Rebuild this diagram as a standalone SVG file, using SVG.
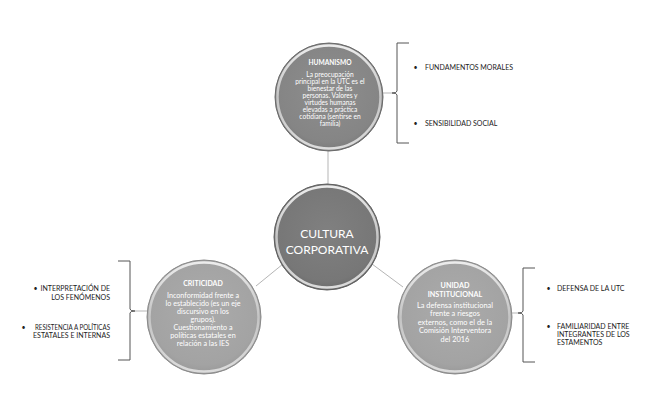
<svg xmlns="http://www.w3.org/2000/svg" width="650" height="406" viewBox="0 0 650 406">
<defs>
<style>
.t{font-family:Lato,"Liberation Sans",Arial,sans-serif;fill:#fff;text-anchor:middle}
.h{font-weight:bold}
.b{font-family:Lato,"Liberation Sans",Arial,sans-serif;fill:#222;font-size:7px}
.conn{stroke:#b5b5b5;stroke-width:1;fill:none}
.brace{stroke:#555;stroke-width:1;fill:none}
</style>
<radialGradient id="gMid" cx="50%" cy="45%" r="55%">
<stop offset="0" stop-color="#8e8e8e"/><stop offset="0.85" stop-color="#858585"/><stop offset="1" stop-color="#7a7a7a"/>
</radialGradient>
<radialGradient id="gDark" cx="50%" cy="45%" r="55%">
<stop offset="0" stop-color="#808080"/><stop offset="0.85" stop-color="#777"/><stop offset="1" stop-color="#6c6c6c"/>
</radialGradient>
<radialGradient id="gLight" cx="50%" cy="45%" r="55%">
<stop offset="0" stop-color="#ababab"/><stop offset="0.85" stop-color="#a3a3a3"/><stop offset="1" stop-color="#999"/>
</radialGradient>
<linearGradient id="rim" x1="0" y1="0" x2="0" y2="1">
<stop offset="0" stop-color="#ececec"/><stop offset="0.5" stop-color="#c4c4c4"/><stop offset="1" stop-color="#dcdcdc"/>
</linearGradient>
</defs>
<rect width="650" height="406" fill="#fff"/>
<g id="connectors">
<line class="conn" x1="328" y1="151" x2="328" y2="184"/>
<line class="conn" x1="283" y1="264" x2="256" y2="286"/>
<line class="conn" x1="372" y1="264" x2="403" y2="287"/>
<line class="conn" x1="383" y1="93" x2="392" y2="93"/>
<line class="conn" x1="135" y1="311" x2="148" y2="311"/>
<line class="conn" x1="512" y1="313" x2="518" y2="313"/>
<path class="brace" d="M409,43 H397 V91 Q397,93 392,93 Q397,93 397,95 V143 H409"/>
<path class="brace" d="M118,261 H130 V309 Q130,311 135,311 Q130,311 130,313 V360 H118"/>
<path class="brace" d="M535,268 H523 V311 Q523,313 518,313 Q523,313 523,315 V362 H535"/>
</g>
<g id="humanismo">
<circle cx="329" cy="97" r="54" fill="url(#gMid)" stroke="#6a6a6a" stroke-width="1"/>
<circle cx="329" cy="97" r="51.5" fill="none" stroke="url(#rim)" stroke-width="2.5"/>
<text class="t h" x="330" y="65" font-size="6.6">HUMANISMO</text>
<text class="t" font-size="6.6"><tspan x="330" y="77.3">La preocupación</tspan><tspan x="330" y="84.3">principal en la UTC es el</tspan><tspan x="330" y="91.3">bienestar de las</tspan><tspan x="330" y="98.3">personas. Valores y</tspan><tspan x="330" y="105.3">virtudes humanas</tspan><tspan x="330" y="112.3">elevadas a práctica</tspan><tspan x="330" y="119.3">cotidiana (sentirse en</tspan><tspan x="330" y="126.3">familia)</tspan></text>
</g>
<g id="cultura">
<circle cx="327" cy="237" r="53" fill="url(#gDark)" stroke="#5e5e5e" stroke-width="1"/>
<circle cx="327" cy="237" r="50.5" fill="none" stroke="url(#rim)" stroke-width="2.5"/>
<text class="t" font-size="12"><tspan x="327" y="237.5">CULTURA</tspan><tspan x="327" y="253.5">CORPORATIVA</tspan></text>
</g>
<g id="criticidad">
<circle cx="204" cy="317" r="57" fill="url(#gLight)" stroke="#8a8a8a" stroke-width="1"/>
<circle cx="204" cy="317" r="54.5" fill="none" stroke="url(#rim)" stroke-width="2.5"/>
<text class="t h" x="203" y="285.5" font-size="7">CRITICIDAD</text>
<text class="t" font-size="7.2"><tspan x="203" y="297.6">Inconformidad frente a</tspan><tspan x="203" y="305.6">lo establecido (es un eje</tspan><tspan x="203" y="313.6">discursivo en los</tspan><tspan x="203" y="321.6">grupos).</tspan><tspan x="203" y="329.6">Cuestionamiento a</tspan><tspan x="203" y="337.6">políticas estatales en</tspan><tspan x="203" y="345.6">relación a las IES</tspan></text>
</g>
<g id="unidad">
<circle cx="455" cy="317" r="57" fill="url(#gLight)" stroke="#8a8a8a" stroke-width="1"/>
<circle cx="455" cy="317" r="54.5" fill="none" stroke="url(#rim)" stroke-width="2.5"/>
<text class="t h" font-size="7.2"><tspan x="455" y="287.6">UNIDAD</tspan><tspan x="455" y="296.6">INSTITUCIONAL</tspan></text>
<text class="t" font-size="7.4"><tspan x="455" y="307.7">La defensa institucional</tspan><tspan x="455" y="316.2">frente a riesgos</tspan><tspan x="455" y="324.7">externos, como el de la</tspan><tspan x="455" y="333.2">Comisión Interventora</tspan><tspan x="455" y="341.7">del 2016</tspan></text>
</g>
<g id="list-humanismo">
<text class="b" x="413.5" y="69.5">•</text><text class="b" x="425" y="69.5">FUNDAMENTOS MORALES</text>
<text class="b" x="413.5" y="125.5">•</text><text class="b" x="425" y="125.5">SENSIBILIDAD SOCIAL</text>
</g>
<g id="list-criticidad">
<text class="b" x="33.5" y="290.5">•</text>
<text class="b" text-anchor="end"><tspan x="110" y="290.5">INTERPRETACIÓN DE</tspan><tspan x="110" y="299.5">LOS FENÓMENOS</tspan></text>
<text class="b" x="21.5" y="329.5">•</text>
<text class="b" text-anchor="end"><tspan x="110" y="329.5" textLength="75" lengthAdjust="spacingAndGlyphs">RESISTENCIA A POLÍTICAS</tspan><tspan x="110" y="337.5">ESTATALES E INTERNAS</tspan></text>
</g>
<g id="list-unidad">
<text class="b" x="546.5" y="290.5">•</text><text class="b" x="557" y="290.5">DEFENSA DE LA UTC</text>
<text class="b" x="546.5" y="328.5">•</text>
<text class="b"><tspan x="557" y="328.5">FAMILIARIDAD ENTRE</tspan><tspan x="557" y="336.5">INTEGRANTES DE LOS</tspan><tspan x="557" y="344.5">ESTAMENTOS</tspan></text>
</g>
</svg>
